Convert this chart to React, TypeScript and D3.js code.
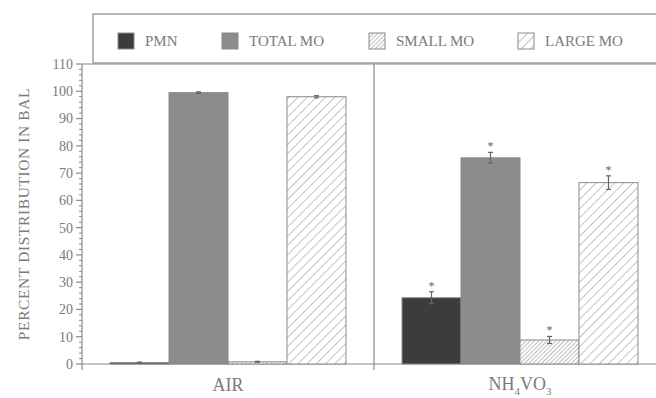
import React, { useEffect, useRef } from 'react'
import * as d3 from 'd3'

const groups = ['AIR', 'NH4VO3']
const series = ['PMN', 'TOTAL MO', 'SMALL MO', 'LARGE MO']
const airValues = [0.5, 99.5, 0.8, 98.0]
const airErrors = [0.2, 0.3, 0.2, 0.4]
const nh4Values = [24.3, 75.6, 8.8, 66.5]
const nh4Errors = [2.2, 2.0, 1.3, 2.5]
const nh4Signif = [true, true, true, true]
const yTicks = [0, 10, 20, 30, 40, 50, 60, 70, 80, 90, 100, 110]

const textColor = '#7a7a7a'
const lineColor = '#8a8a8a'
const font = '"Liberation Serif", "DejaVu Serif", serif'

export default function App() {
  const ref = useRef(null)

  useEffect(() => {
    const W = 656, H = 398
    const margin = { left: 82, top: 64, bottom: 364 }
    const svg = d3.select(ref.current)
    svg.selectAll('*').remove()
    svg.attr('width', W).attr('height', H)

    const defs = svg.append('defs')
    // dense hatch for SMALL MO
    const small = defs.append('pattern').attr('id', 'hatchSmall')
      .attr('patternUnits', 'userSpaceOnUse').attr('width', 3).attr('height', 3)
      .attr('patternTransform', 'rotate(45)')
    small.append('rect').attr('width', 3).attr('height', 3).attr('fill', '#fff')
    small.append('line').attr('x1', 0).attr('y1', 0).attr('x2', 0).attr('y2', 3)
      .attr('stroke', '#888').attr('stroke-width', 1.1)
    // sparse hatch for LARGE MO
    const large = defs.append('pattern').attr('id', 'hatchLarge')
      .attr('patternUnits', 'userSpaceOnUse').attr('width', 6.5).attr('height', 6.5)
      .attr('patternTransform', 'rotate(45)')
    large.append('rect').attr('width', 6.5).attr('height', 6.5).attr('fill', '#fff')
    large.append('line').attr('x1', 0).attr('y1', 0).attr('x2', 0).attr('y2', 6.5)
      .attr('stroke', '#888').attr('stroke-width', 1)

    const fills = ['#3c3c3c', '#8c8c8c', 'url(#hatchSmall)', 'url(#hatchLarge)']
    const color = d3.scaleOrdinal<string, string>().domain(series).range(fills)

    const x0 = d3.scaleBand().domain(groups).range([margin.left, 666]).padding(0)
    const x1 = d3.scaleBand().domain(series).range([0, x0.bandwidth()])
      .paddingInner(0).paddingOuter(0.475)
    const y = d3.scaleLinear().domain([0, 110]).range([margin.bottom, margin.top])

    // legend box
    svg.append('rect').attr('x', 93).attr('y', 14).attr('width', 600).attr('height', 49)
      .attr('fill', 'none').attr('stroke', lineColor).attr('stroke-width', 1.2)
    const legendX = [118, 222, 369, 518]
    const leg = svg.append('g').selectAll('g').data(series).enter().append('g')
      .attr('transform', (d, i) => `translate(${legendX[i]},33)`)
    leg.append('rect').attr('width', 16).attr('height', 16)
      .attr('fill', d => color(d)).attr('stroke', lineColor).attr('stroke-width', 1)
    leg.append('text').attr('x', 27).attr('y', 13)
      .style('font-family', font).style('font-size', '15px').attr('fill', textColor)
      .text(d => d)

    // frame lines
    svg.append('line').attr('x1', margin.left).attr('x2', W).attr('y1', margin.top).attr('y2', margin.top)
      .attr('stroke', lineColor).attr('stroke-width', 1.2)
    svg.append('line').attr('x1', margin.left).attr('x2', W).attr('y1', margin.bottom).attr('y2', margin.bottom)
      .attr('stroke', lineColor).attr('stroke-width', 1.2)
    svg.append('line').attr('x1', x0('NH4VO3')).attr('x2', x0('NH4VO3'))
      .attr('y1', margin.top).attr('y2', margin.bottom + 6)
      .attr('stroke', lineColor).attr('stroke-width', 1.2)

    // y axis
    const minor = d3.range(0, 111, 2).filter(v => v % 10 !== 0)
    const ax = svg.append('g').attr('transform', `translate(${margin.left},0)`)
    ax.append('line').attr('y1', margin.top).attr('y2', margin.bottom + 6)
      .attr('stroke', lineColor).attr('stroke-width', 1.2)
    ax.selectAll('.minor').data(minor).enter().append('line').attr('class', 'minor')
      .attr('x1', -3).attr('x2', 0).attr('y1', d => y(d)).attr('y2', d => y(d))
      .attr('stroke', lineColor).attr('stroke-width', 1)
    ax.selectAll('.major').data(yTicks).enter().append('line').attr('class', 'major')
      .attr('x1', -6).attr('x2', 0).attr('y1', d => y(d)).attr('y2', d => y(d))
      .attr('stroke', lineColor).attr('stroke-width', 1.2)
    ax.selectAll('.lbl').data(yTicks).enter().append('text').attr('class', 'lbl')
      .attr('x', -9).attr('y', d => y(d)).attr('dy', '0.35em').attr('text-anchor', 'end')
      .style('font-family', font).style('font-size', '14px').attr('fill', textColor)
      .text(d => d)

    svg.append('text').attr('transform', `translate(29,${(margin.top + margin.bottom) / 2}) rotate(-90)`)
      .attr('text-anchor', 'middle')
      .style('font-family', font).style('font-size', '15.5px').style('letter-spacing', '0.6px')
      .attr('fill', textColor)
      .text('PERCENT DISTRIBUTION IN BAL')

    // bars
    const rows = [
      { g: 'AIR', values: airValues, errors: airErrors, sig: [false, false, false, false] },
      { g: 'NH4VO3', values: nh4Values, errors: nh4Errors, sig: nh4Signif },
    ]
    rows.forEach(row => {
      const gg = svg.append('g').attr('transform', `translate(${x0(row.g)},0)`)
      const data = series.map((s, i) => ({ s, v: row.values[i], e: row.errors[i], sig: row.sig[i] }))
      gg.selectAll('rect').data(data).enter().append('rect')
        .attr('x', d => x1(d.s)).attr('width', x1.bandwidth())
        .attr('y', d => y(d.v)).attr('height', d => y(0) - y(d.v))
        .attr('fill', d => color(d.s)).attr('stroke', lineColor).attr('stroke-width', 1)
      const eb = gg.selectAll('.err').data(data).enter().append('g').attr('class', 'err')
        .attr('transform', d => `translate(${x1(d.s) + x1.bandwidth() / 2},0)`)
      eb.append('line').attr('y1', d => y(d.v + d.e)).attr('y2', d => y(Math.max(0, d.v - d.e)))
        .attr('stroke', '#666').attr('stroke-width', 1.2)
      eb.append('line').attr('x1', -2.5).attr('x2', 2.5)
        .attr('y1', d => y(d.v + d.e)).attr('y2', d => y(d.v + d.e))
        .attr('stroke', '#666').attr('stroke-width', 1.2)
      eb.append('line').attr('x1', -2.5).attr('x2', 2.5)
        .attr('y1', d => y(Math.max(0, d.v - d.e))).attr('y2', d => y(Math.max(0, d.v - d.e)))
        .attr('stroke', '#666').attr('stroke-width', 1.2)
      eb.filter(d => d.sig).append('text').attr('y', d => y(d.v + d.e) - 2)
        .attr('text-anchor', 'middle')
        .style('font-family', font).style('font-size', '12px').attr('fill', '#666')
        .text('*')
    })

    // category labels
    svg.append('text').attr('x', x0('AIR') + x0.bandwidth() / 2).attr('y', 391)
      .attr('text-anchor', 'middle')
      .style('font-family', font).style('font-size', '18px').attr('fill', textColor)
      .text('AIR')
    const nh = svg.append('text').attr('x', x0('NH4VO3') + x0.bandwidth() / 2).attr('y', 390)
      .attr('text-anchor', 'middle')
      .style('font-family', font).style('font-size', '18px').attr('fill', textColor)
    nh.append('tspan').text('NH')
    nh.append('tspan').attr('dy', 5).style('font-size', '11px').text('4')
    nh.append('tspan').attr('dy', -5).text('VO')
    nh.append('tspan').attr('dy', 5).style('font-size', '11px').text('3')
  }, [])

  return (
    <svg ref={ref} style={{ position: 'absolute', left: 0, top: 0, display: 'block' }} />
  )
}
